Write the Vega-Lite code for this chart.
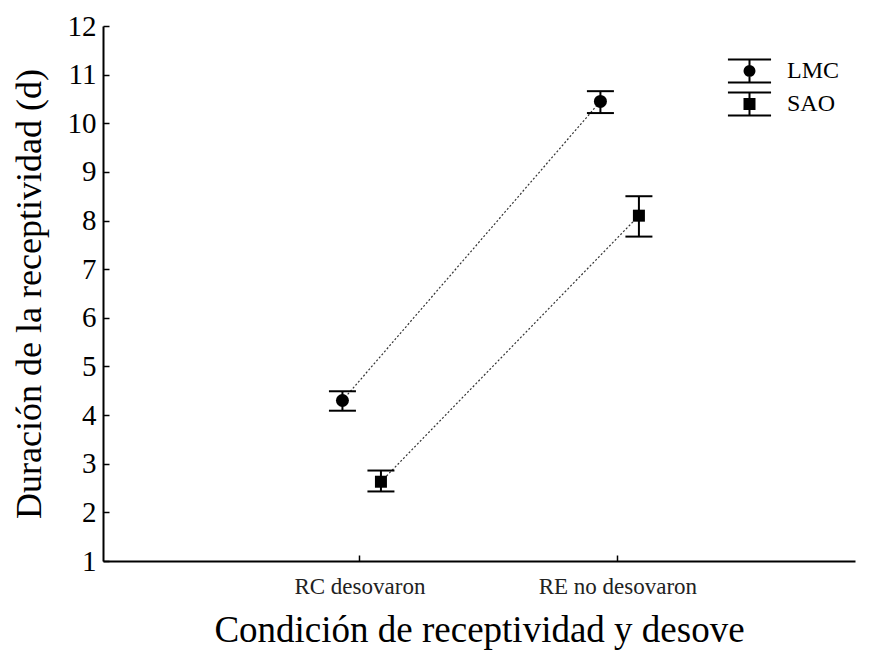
{
  "$schema": "https://vega.github.io/schema/vega-lite/v6.json",
  "width": 752,
  "height": 535,
  "autosize": {"type": "none"},
  "padding": {"left": 103, "top": 26, "right": 15, "bottom": 100},
  "background": "white",
  "config": {"view": {"stroke": null}, "font": "Liberation Serif"},
  "data": {"values": [
    {"cond": "RC desovaron", "grupo": "LMC", "media": 4.3, "lo": 4.09, "hi": 4.49},
    {"cond": "RE no desovaron", "grupo": "LMC", "media": 10.45, "lo": 10.21, "hi": 10.66},
    {"cond": "RC desovaron", "grupo": "SAO", "media": 2.63, "lo": 2.43, "hi": 2.86},
    {"cond": "RE no desovaron", "grupo": "SAO", "media": 8.1, "lo": 7.67, "hi": 8.5}
  ]},
  "encoding": {
    "x": {
      "field": "cond", "type": "nominal",
      "scale": {"type": "band", "domain": ["RC desovaron", "RE no desovaron"], "paddingInner": 0, "paddingOuter": 0.4575, "align": 0.542},
      "title": "Condición de receptividad y desove",
      "axis": {"labelAngle": 0, "labelFontSize": 23, "labelColor": "#222", "titleFontSize": 37, "titleFontWeight": "normal", "titleColor": "black", "titlePadding": 14, "domainColor": "black", "domainWidth": 2, "tickColor": "black", "tickWidth": 1.5, "tickSize": -6, "labelPadding": 20, "grid": false}
    },
    "xOffset": {"field": "grupo", "type": "nominal", "scale": {"type": "point", "padding": 0, "domain": ["LMC", "SAO"], "range": [111.5, 150]}},
    "y": {
      "field": "media", "type": "quantitative",
      "scale": {"domain": [1, 12], "nice": false, "zero": false},
      "title": "Duración de la receptividad (d)",
      "axis": {"values": [1,2,3,4,5,6,7,8,9,10,11,12], "labelFontSize": 29, "labelColor": "black", "titleFontSize": 36, "titleFontWeight": "normal", "titleColor": "black", "titlePadding": 19, "domainColor": "black", "domainWidth": 2, "tickColor": "black", "tickWidth": 1.5, "tickSize": -6, "labelPadding": 13, "grid": false}
    }
  },
  "layer": [
    {"mark": {"type": "line", "strokeDash": [2, 2], "color": "#333", "strokeWidth": 1.2}, "encoding": {"detail": {"field": "grupo", "type": "nominal"}}},
    {"mark": {"type": "rule", "color": "black", "strokeWidth": 2}, "encoding": {"y": {"field": "lo", "type": "quantitative"}, "y2": {"field": "hi"}}},
    {"mark": {"type": "tick", "color": "black", "thickness": 2, "size": 27, "opacity": 1}, "encoding": {"y": {"field": "lo", "type": "quantitative"}}},
    {"mark": {"type": "tick", "color": "black", "thickness": 2, "size": 27, "opacity": 1}, "encoding": {"y": {"field": "hi", "type": "quantitative"}}},
    {"transform": [{"filter": "datum.grupo === 'LMC'"}],
     "mark": {"type": "point", "shape": "circle", "filled": true, "color": "black", "opacity": 1, "size": 169}},
    {"transform": [{"filter": "datum.grupo === 'SAO'"}],
     "mark": {"type": "point", "shape": "square", "filled": true, "color": "black", "opacity": 1, "size": 144}},
    {"mark": {"type": "point", "filled": false, "color": "black", "strokeWidth": 2, "opacity": 0, "size": 10},
     "encoding": {"shape": {"field": "grupo", "type": "nominal",
       "scale": {"domain": ["LMC", "SAO"], "range": [
         "M-1.54,-0.82H1.54M-1.54,0.82H1.54M0,-0.82V0.82M-0.357,0A0.357,0.357,0,1,1,0.357,0A0.357,0.357,0,1,1,-0.357,0M-0.214,0A0.214,0.214,0,1,1,0.214,0A0.214,0.214,0,1,1,-0.214,0M-0.071,0A0.071,0.071,0,1,1,0.071,0A0.071,0.071,0,1,1,-0.071,0",
         "M-1.54,-0.82H1.54M-1.54,0.82H1.54M0,-0.82V0.82M-0.357,-0.357H0.357V0.357H-0.357ZM-0.214,-0.214H0.214V0.214H-0.214ZM-0.071,-0.071H0.071V0.071H-0.071Z"]},
       "legend": {"orient": "none", "legendX": 631.5, "legendY": 30, "title": null, "padding": 0, "labelFontSize": 24, "labelColor": "black", "symbolSize": 784, "symbolStrokeWidth": 2, "symbolStrokeColor": "black", "symbolOpacity": 1, "rowPadding": 1, "labelOffset": 22.5}}}}
  ]
}
